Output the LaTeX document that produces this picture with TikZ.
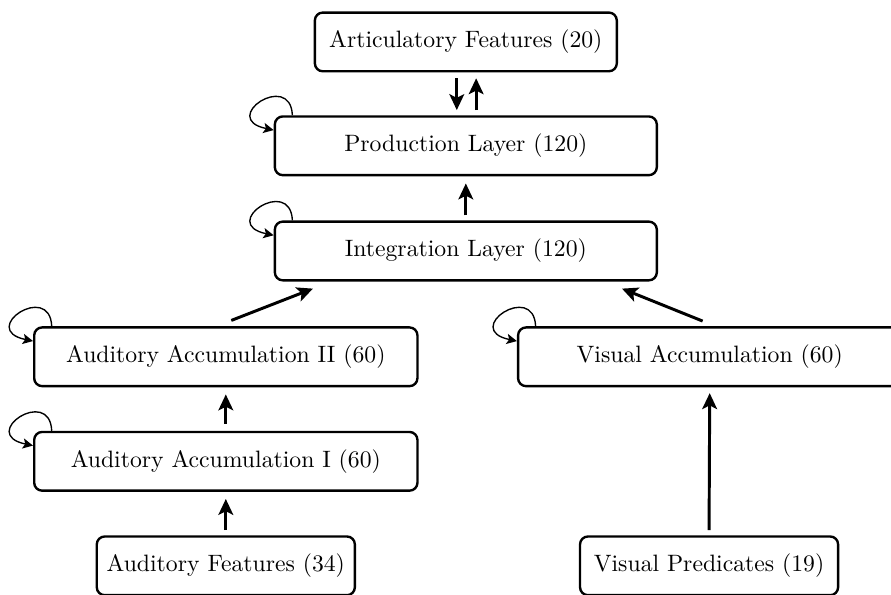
\documentclass[tikz,border=0pt]{standalone}
\usepackage{tikz}
\usetikzlibrary{arrows.meta, positioning}
\tikzstyle{layer} = [rectangle, rounded corners=3.5pt, minimum height=0.91cm, text centered, draw=black, line width=1.05pt, fill=white]
\tikzstyle{arrow} = [line width=1.3pt,-{Stealth[length=7pt,width=6.5pt,inset=1.6pt]}]
\tikzstyle{selfloop} = [semithick,-{Stealth[length=4.5pt,width=4.5pt,inset=1pt]}]

\begin{document}
\begin{tikzpicture}[
  every node/.style={font=\fontsize{10.45}{12.5}\selectfont}
]
\useasboundingbox (0,0) rectangle (13.81,-9.22);

\node (art) [layer, minimum width=4.68cm] at (7.22,-0.65) {Articulatory Features (20)};
\node (prod) [layer, minimum width=5.92cm] at (7.22,-2.26) {Production Layer (120)};
\node (integ) [layer, minimum width=5.92cm] at (7.22,-3.89) {Integration Layer (120)};
\node (audtwo) [layer, minimum width=5.94cm] at (3.50,-5.53) {Auditory Accumulation II (60)};
\node (vis) [layer, minimum width=5.94cm] at (11.00,-5.53) {Visual Accumulation (60)};
\node (audone) [layer, minimum width=5.94cm] at (3.50,-7.15) {Auditory Accumulation I (60)};
\node (audfeat) [layer, minimum width=4.0cm] at (3.50,-8.77) {Auditory Features (34)};
\node (vispred) [layer, minimum width=4.0cm] at (10.99,-8.77) {Visual Predicates (19)};

\draw [arrow] ([xshift=-0.14cm,yshift=-0.09cm]art.south) -- ([xshift=-0.14cm,yshift=0.08cm]prod.north);
\draw [arrow] ([xshift=0.16cm,yshift=0.08cm]prod.north) -- ([xshift=0.16cm,yshift=-0.09cm]art.south);
\draw [arrow] ([yshift=0.08cm]integ.north) -- ([yshift=-0.11cm]prod.south);
\draw [arrow] ([xshift=0.085cm,yshift=0.09cm]audtwo.north) -- ([xshift=-2.37cm,yshift=-0.11cm]integ.south);
\draw [arrow] ([xshift=-0.11cm,yshift=0.08cm]vis.north) -- ([xshift=2.42cm,yshift=-0.11cm]integ.south);
\draw [arrow] ([yshift=0.11cm]audone.north) -- ([yshift=-0.11cm]audtwo.south);
\draw [arrow] ([yshift=0.08cm]audfeat.north) -- ([yshift=-0.11cm]audone.south);
\draw [arrow] ([yshift=0.08cm]vispred.north) -- ([yshift=-0.09cm]vis.south);

% recurrent connections
\foreach \n in {prod, integ, audtwo, vis, audone}
  \draw [selfloop] ([xshift=0.29cm]\n.north west) .. controls +(-0.03,0.7) and +(-0.86,0.18) .. ([yshift=-0.23cm]\n.north west);

\end{tikzpicture}
\end{document}
